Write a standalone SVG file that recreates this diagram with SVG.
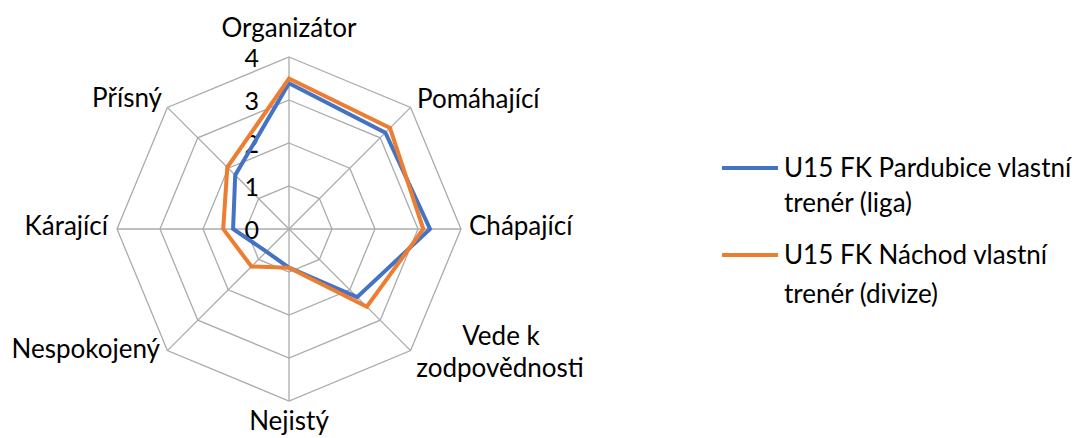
<svg xmlns="http://www.w3.org/2000/svg" width="1074" height="438" viewBox="0 0 1074 438">
<style>
  .grid { fill: none; stroke: #ABABAB; stroke-width: 1.3; }
  .spoke { stroke: #ABABAB; stroke-width: 1.3; }
  .ser { fill: none; stroke-width: 4; stroke-linejoin: miter; }
  .blue { stroke: #4472C4; }
  .orange { stroke: #ED7D31; }
  text { font-family: Lato, "Open Sans", "Liberation Sans", sans-serif; font-size: 26px; fill: #000; }
  .tick { font-size: 25px; }
</style>
<rect width="1074" height="438" fill="#fff"/>
<g id="grid">
  <polygon class="grid" points="289,186 319.4,198.6 332,229 319.4,259.4 289,272 258.6,259.4 246,229 258.6,198.6"/>
  <polygon class="grid" points="289,143 349.8,168.2 375,229 349.8,289.8 289,315 228.2,289.8 203,229 228.2,168.2"/>
  <polygon class="grid" points="289,100 380.2,137.8 418,229 380.2,320.2 289,358 197.8,320.2 160,229 197.8,137.8"/>
  <polygon class="grid" points="289,57 410.6,107.4 461,229 410.6,350.6 289,401 167.4,350.6 117,229 167.4,107.4"/>
  <line class="spoke" x1="289" y1="229" x2="289" y2="57"/>
  <line class="spoke" x1="289" y1="229" x2="410.6" y2="107.4"/>
  <line class="spoke" x1="289" y1="229" x2="461" y2="229"/>
  <line class="spoke" x1="289" y1="229" x2="410.6" y2="350.6"/>
  <line class="spoke" x1="289" y1="229" x2="289" y2="401"/>
  <line class="spoke" x1="289" y1="229" x2="167.4" y2="350.6"/>
  <line class="spoke" x1="289" y1="229" x2="117" y2="229"/>
  <line class="spoke" x1="289" y1="229" x2="167.4" y2="107.4"/>
</g>
<g id="ticks">
  <text class="tick" x="259" y="66.5" text-anchor="end">4</text>
  <text class="tick" x="259" y="109.5" text-anchor="end">3</text>
  <text class="tick" x="259" y="152.5" text-anchor="end">2</text>
  <text class="tick" x="259" y="195.5" text-anchor="end">1</text>
  <text class="tick" x="259" y="238.5" text-anchor="end">0</text>
</g>
<g id="series">
  <polygon id="series-pardubice" class="ser blue" points="289,83.2 385.4,132.6 430,229 357.1,297.1 289,267.7 266.4,251.6 233.1,229 235.2,175.2"/>
  <polygon id="series-nachod" class="ser orange" points="289,78.5 390,128 423.3,229 366.8,306.8 289,267.7 251.5,266.5 223.2,229 227.3,167.3"/>
</g>
<g id="axis-labels">
  <text x="289" y="37" text-anchor="middle">Organizátor</text>
  <text x="417" y="108" >Pomáhající</text>
  <text x="469" y="235">Chápající</text>
  <text x="501" y="345" text-anchor="middle">Vede k</text>
  <text x="500" y="377" text-anchor="middle">zodpovědnosti</text>
  <text x="289" y="430" text-anchor="middle">Nejistý</text>
  <text x="160" y="358" text-anchor="end">Nespokojený</text>
  <text x="108" y="235" text-anchor="end">Kárající</text>
  <text x="162" y="107" text-anchor="end">Přísný</text>
</g>
<g id="legend">
  <g id="legend-pardubice">
    <line x1="722" y1="168" x2="778" y2="168" stroke="#4472C4" stroke-width="4"/>
    <text x="784" y="177">U15 FK Pardubice vlastní</text>
    <text x="784" y="212">trenér (liga)</text>
  </g>
  <g id="legend-nachod">
    <line x1="722" y1="255" x2="778" y2="255" stroke="#ED7D31" stroke-width="4"/>
    <text x="784" y="263.5">U15 FK Náchod vlastní</text>
    <text x="784" y="303">trenér (divize)</text>
  </g>
</g>
</svg>
